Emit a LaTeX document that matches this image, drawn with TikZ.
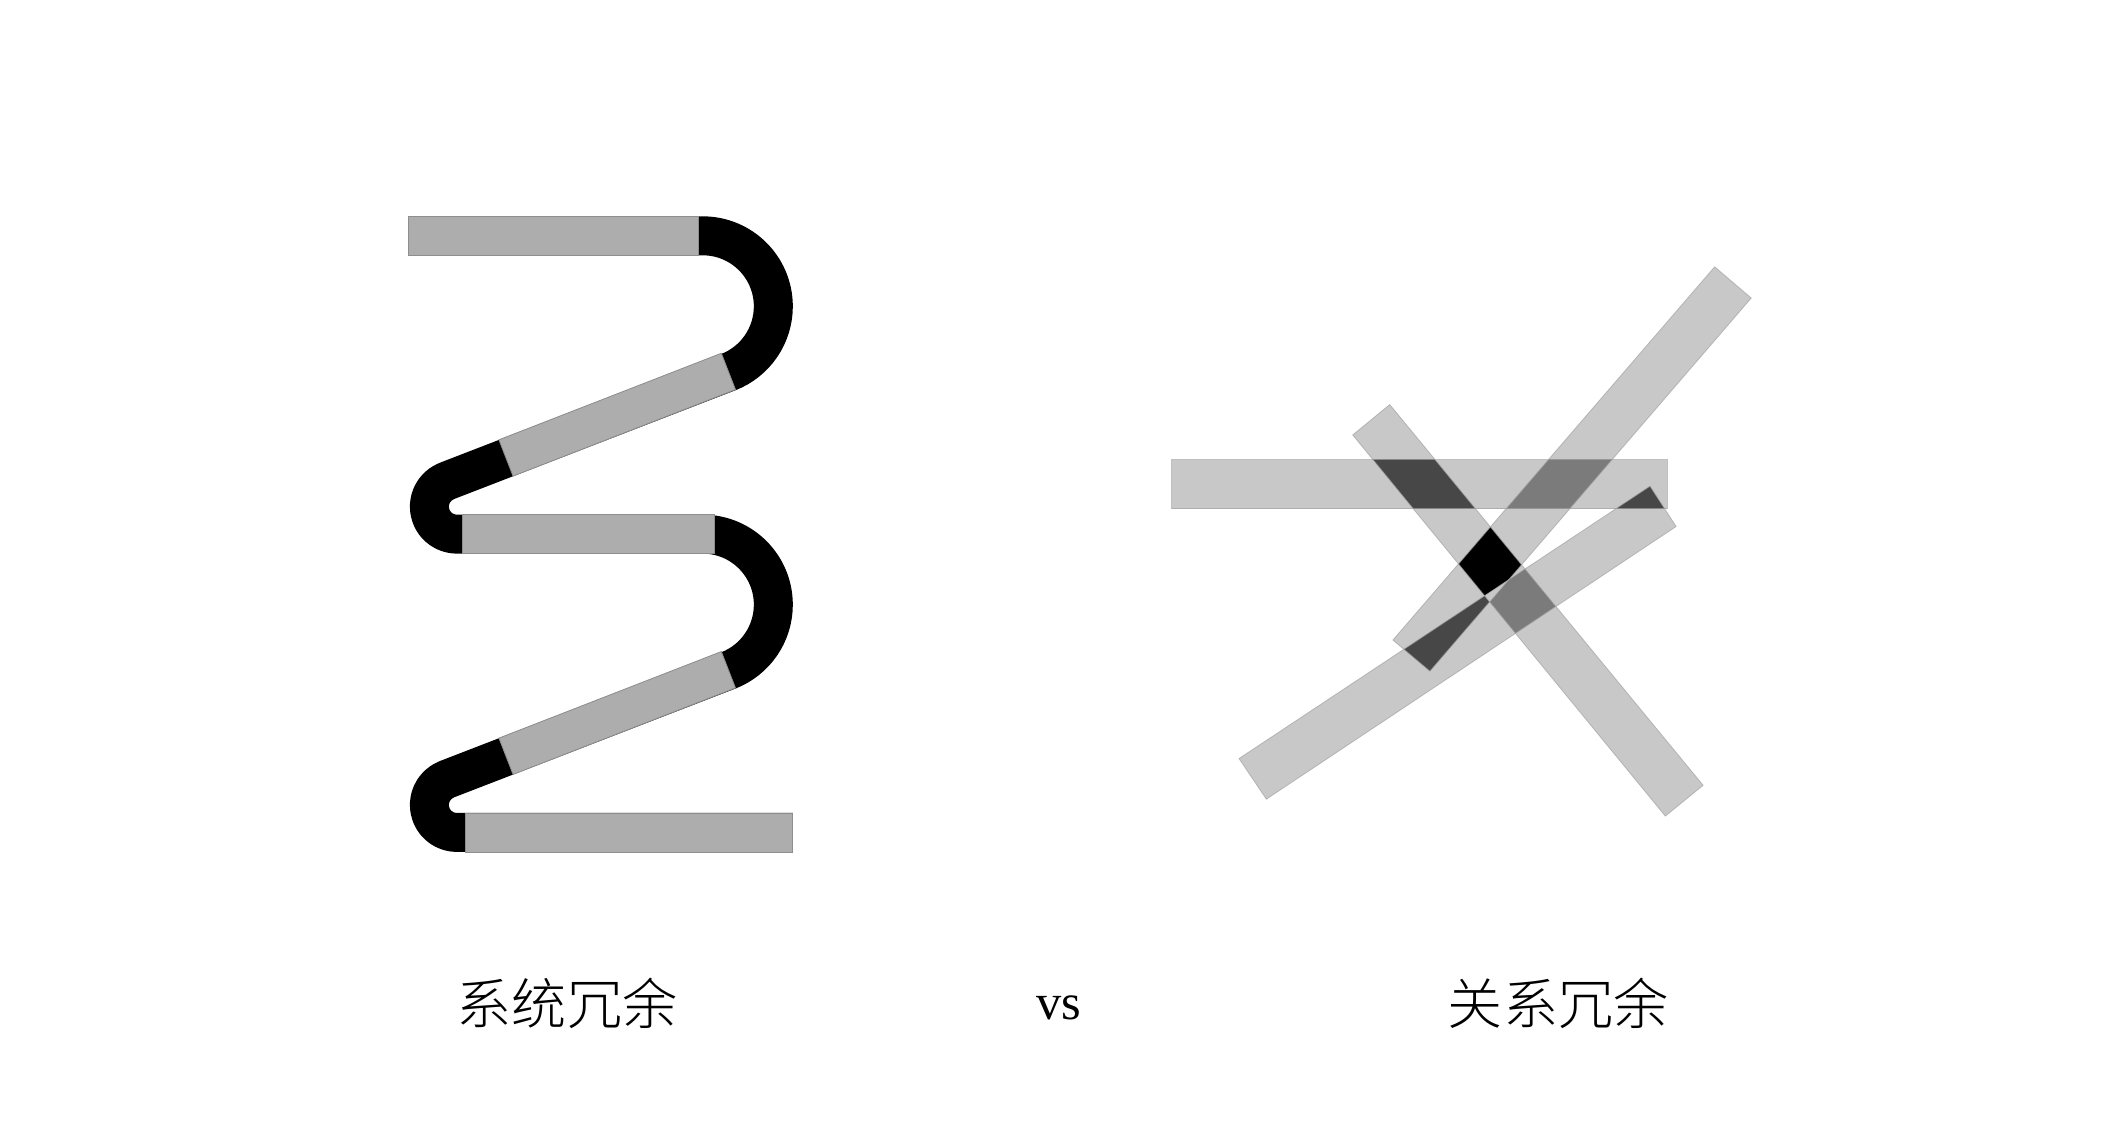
\documentclass[tikz,border=0pt]{standalone}
\usepackage{fontspec}
\setmainfont{Liberation Serif}
\newfontfamily\cjkfont{Noto Sans CJK SC Light}
\usetikzlibrary{calc}
\definecolor{lgray}{HTML}{ADADAD}
\definecolor{ledge}{HTML}{8E8E8E}
\definecolor{rgray}{HTML}{C8C8C8}
\definecolor{redge}{HTML}{A4A4A4}
\definecolor{rmed}{HTML}{7B7B7B}
\definecolor{rdark}{HTML}{474747}
\newcommand{\rsH}{(872,342) rectangle (1240.5,378.6)}
\newcommand{\rsA}{(1276,198.6) -- (1303.2,221.8) -- (1064.1,499.5) -- (1036.6,476.3) -- cycle}
\newcommand{\rsB}{(1006.7,323.7) -- (1034.2,301.1) -- (1267.4,584.4) -- (1239.3,607.3) -- cycle}
\newcommand{\rsC}{(922.1,564.5) -- (1227.9,361.8) -- (1247.3,391.8) -- (942.4,594.7) -- cycle}
\tikzset{
  spring/.style={draw=black, line width=29pt, line cap=butt, line join=round},
  lbar/.style={fill=lgray, draw=ledge, line width=0.6pt},
  rbar/.style={fill=rgray},
  redgeline/.style={draw=redge, line width=0.6pt},
  label/.style={inner sep=0pt, font=\cjkfont\fontsize{41}{41}\selectfont},
  vslabel/.style={inner sep=0pt, font=\fontsize{37.5}{37.5}\selectfont, anchor=base}
}
\begin{document}
\begin{tikzpicture}[x=1pt,y=-1pt]
\useasboundingbox[fill=white] (0,0) rectangle (1568,853);
% ---------- left: system redundancy ----------
\draw[spring] (304,175.5) -- (523,175.5)
  arc[start angle=-90,end angle=68.75,radius=52.5]
  -- ($(340,377)+(248.75:20.5)$)
  arc[start angle=248.75,end angle=90,radius=20.5]
  -- (523,397.5)
  arc[start angle=-90,end angle=68.75,radius=52.5]
  -- ($(340,599)+(248.75:20.5)$)
  arc[start angle=248.75,end angle=90,radius=20.5]
  -- (590,619.5);
\path[lbar] (304,161) rectangle (520,190);
\path[lbar] (344,383) rectangle (532,412);
\path[lbar] (346,605) rectangle (590,634);
\path[lbar] (547.3,289.9) -- (536.8,262.9) -- (371.3,327.3) -- (381.8,354.3) -- cycle;
\path[lbar] (547.3,511.9) -- (536.8,484.9) -- (371.3,549.3) -- (381.8,576.3) -- cycle;
% ---------- right: relation redundancy ----------
\path[rbar] \rsH;
\path[rbar] \rsA;
\path[rbar] \rsB;
\path[rbar] \rsC;
\begin{scope}\clip \rsH; \fill[rmed] \rsA; \end{scope}
\begin{scope}\clip \rsH; \fill[rdark] \rsB; \end{scope}
\begin{scope}\clip \rsH; \fill[rdark] \rsC; \end{scope}
\begin{scope}\clip \rsA; \fill[black] \rsB; \end{scope}
\begin{scope}\clip \rsA; \fill[rdark] \rsC; \end{scope}
\begin{scope}\clip \rsB; \fill[rmed] \rsC; \end{scope}
\begin{scope}\clip \rsA; \clip \rsB; \fill[rgray] \rsC; \end{scope}
\path[redgeline, draw opacity=0.7] \rsH;
\path[redgeline, draw opacity=0.7] \rsA;
\path[redgeline, draw opacity=0.7] \rsB;
\path[redgeline, draw opacity=0.7] \rsC;
% ---------- labels ----------
\node[label] (sys) at (422,746.5) {系统冗余};
\node[vslabel] (vs) at (788,759) {vs};
\node[label] (rel) at (1159.5,746.5) {关系冗余};
\end{tikzpicture}
\end{document}
